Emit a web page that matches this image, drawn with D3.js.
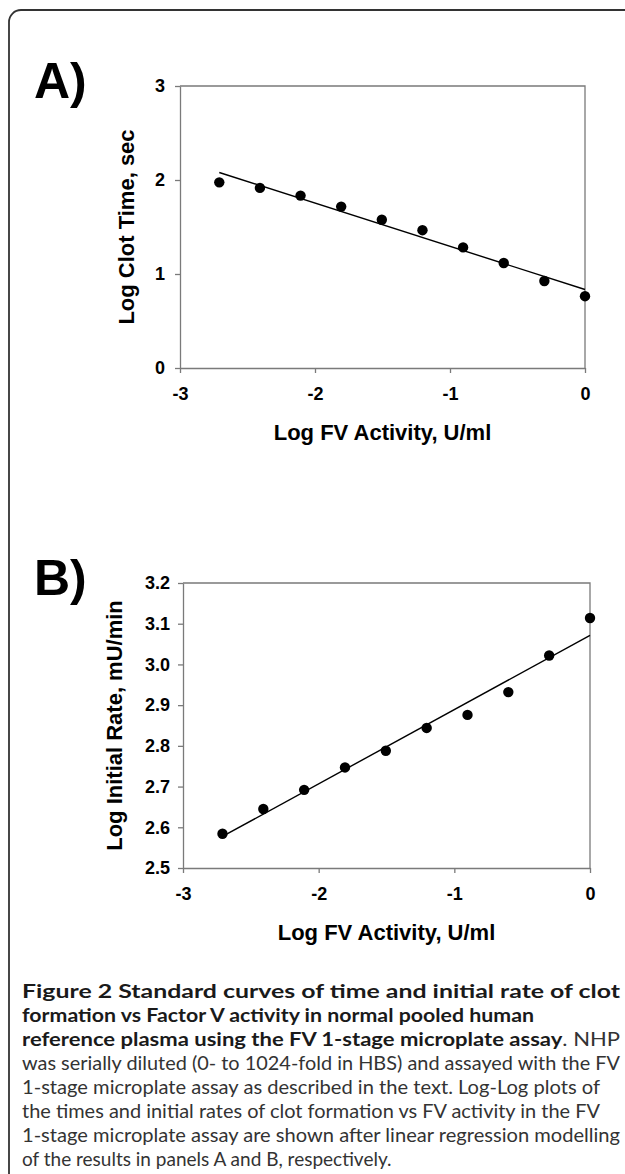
<!DOCTYPE html>
<html>
<head>
<meta charset="utf-8">
<script src="https://cdn.jsdelivr.net/npm/d3@7"></script>
<style>
  html, body { margin: 0; padding: 0; background: #fff; }
  svg { display: block; }
</style>
</head>
<body>
<svg id="fig" width="625" height="1174"></svg>
<script>
// ---------------- DATA ----------------
const xTickValues = [-3, -2, -1, 0];
const logFVActivity = [-2.709, -2.408, -2.107, -1.806, -1.505, -1.204, -0.903, -0.602, -0.301, 0];
const logClotTime = [1.975, 1.916, 1.834, 1.717, 1.577, 1.466, 1.283, 1.117, 0.926, 0.764];
const logInitialRate = [2.584, 2.645, 2.692, 2.747, 2.788, 2.844, 2.876, 2.932, 3.022, 3.114];
const yTicksA = [0, 1, 2, 3];
const yTicksB = [2.5, 2.6, 2.7, 2.8, 2.9, 3.0, 3.1, 3.2];
const xTitle = "Log FV Activity, U/ml";
const yTitleA = "Log Clot Time, sec";
const yTitleB = "Log Initial Rate, mU/min";
const captionLines = [
  [{t: "Figure 2 Standard curves of time and initial rate of clot", b: true}],
  [{t: "formation vs Factor V activity in normal pooled human", b: true}],
  [{t: "reference plasma using the FV 1-stage microplate assay", b: true}, {t: ". NHP", b: false}],
  [{t: "was serially diluted (0- to 1024-fold in HBS) and assayed with the FV", b: false}],
  [{t: "1-stage microplate assay as described in the text. Log-Log plots of", b: false}],
  [{t: "the times and initial rates of clot formation vs FV activity in the FV", b: false}],
  [{t: "1-stage microplate assay are shown after linear regression modelling", b: false}],
  [{t: "of the results in panels A and B, respectively.", b: false}]
];
const captionWidths = [598, 512, 598, 598, 578, 578, 598, null];

// ---------------- DRAW ----------------
const svg = d3.select("#fig");
const FONT = "'Liberation Sans', Arial, sans-serif";
const hyphen = f => (d => f(d).replace("\u2212", "-"));

// outer frame (rounded, running off right/bottom)
svg.append("rect")
  .attr("x", 9).attr("y", 10).attr("width", 700).attr("height", 1300)
  .attr("rx", 12).attr("ry", 12)
  .attr("fill", "none").attr("stroke", "#333").attr("stroke-width", 1.8);

function regression(xs, ys) {
  const mx = d3.mean(xs), my = d3.mean(ys);
  let sxy = 0, sxx = 0;
  xs.forEach((x, i) => { sxy += (x - mx) * (ys[i] - my); sxx += (x - mx) * (x - mx); });
  const slope = sxy / sxx;
  return {slope, intercept: my - slope * mx};
}

function panel(opt) {
  const g = svg.append("g");
  const x = d3.scaleLinear().domain([-3, 0]).range([opt.left, opt.right]);
  const y = d3.scaleLinear().domain(opt.yDomain).range([opt.bottom, opt.top]);

  // frame top/right
  g.append("path")
    .attr("d", `M${opt.left},${opt.top}H${opt.right}V${opt.bottom}`)
    .attr("fill", "none").attr("stroke", "#7a7a7a").attr("stroke-width", 1.3);

  const xAxis = g.append("g").attr("transform", `translate(0,${opt.bottom})`)
    .call(d3.axisBottom(x).tickValues(xTickValues).tickFormat(hyphen(d3.format("d")))
      .tickSizeInner(5).tickSizeOuter(0).tickPadding(14));
  const yAxis = g.append("g").attr("transform", `translate(${opt.left},0)`)
    .call(d3.axisLeft(y).tickValues(opt.yTicks).tickFormat(opt.yFormat)
      .tickSizeInner(5).tickSizeOuter(0).tickPadding(opt.yPad));
  [xAxis, yAxis].forEach(a => {
    a.select(".domain").attr("stroke", "#7a7a7a").attr("stroke-width", 1.3);
    a.selectAll(".tick line").attr("stroke", "#7a7a7a").attr("stroke-width", 1.3);
    a.selectAll(".tick text").attr("fill", "#000")
      .style("font-family", FONT).style("font-size", "18px").style("font-weight", "bold");
  });

  // regression line
  const r = regression(logFVActivity, opt.values);
  const x0 = d3.min(logFVActivity), x1 = d3.max(logFVActivity);
  g.append("line")
    .attr("x1", x(x0)).attr("y1", y(r.intercept + r.slope * x0))
    .attr("x2", x(x1)).attr("y2", y(r.intercept + r.slope * x1))
    .attr("stroke", "#000").attr("stroke-width", 1.4);

  // points
  g.selectAll("circle.pt").data(opt.values).join("circle")
    .attr("class", "pt")
    .attr("cx", (d, i) => x(logFVActivity[i]))
    .attr("cy", d => y(d))
    .attr("r", 5.2).attr("fill", "#000");

  // axis titles
  g.append("text")
    .attr("x", (opt.left + opt.right) / 2).attr("y", opt.bottom + 72)
    .attr("text-anchor", "middle")
    .style("font-family", FONT).style("font-size", "22px").style("font-weight", "bold")
    .text(xTitle);
  g.append("text")
    .attr("transform", `translate(${opt.yTitleX},${(opt.top + opt.bottom) / 2}) rotate(-90)`)
    .attr("text-anchor", "middle")
    .style("font-family", FONT).style("font-size", "22px").style("font-weight", "bold")
    .text(opt.yTitle);

  // panel letter
  g.append("text")
    .attr("x", 34).attr("y", opt.letterY)
    .style("font-family", FONT).style("font-size", "50px").style("font-weight", "bold")
    .text(opt.letter);
}

panel({left: 180, right: 585, top: 86, bottom: 368, yDomain: [0, 3], yTicks: yTicksA, yPad: 10,
  yFormat: d3.format("d"), values: logClotTime, yTitle: yTitleA, yTitleX: 134, letter: "A)", letterY: 98});
panel({left: 183, right: 590, top: 583, bottom: 868, yDomain: [2.5, 3.2], yTicks: yTicksB, yPad: 8,
  yFormat: d3.format(".1f"), values: logInitialRate, yTitle: yTitleB, yTitleX: 122, letter: "B)", letterY: 595});

// caption
const cap = svg.append("g");
captionLines.forEach((line, i) => {
  const t = cap.append("text")
    .attr("x", 22).attr("y", 998 + i * 24)
    .style("font-family", "Lato, 'Open Sans', sans-serif").style("font-size", "19px");
  line.forEach(seg => {
    t.append("tspan").text(seg.t)
      .attr("fill", seg.b ? "#1a1a1a" : "#333")
      .style("font-weight", seg.b ? "bold" : "normal");
  });
  if (captionWidths[i]) {
    t.attr("textLength", captionWidths[i]).attr("lengthAdjust", "spacingAndGlyphs");
  }
});
</script>
</body>
</html>
